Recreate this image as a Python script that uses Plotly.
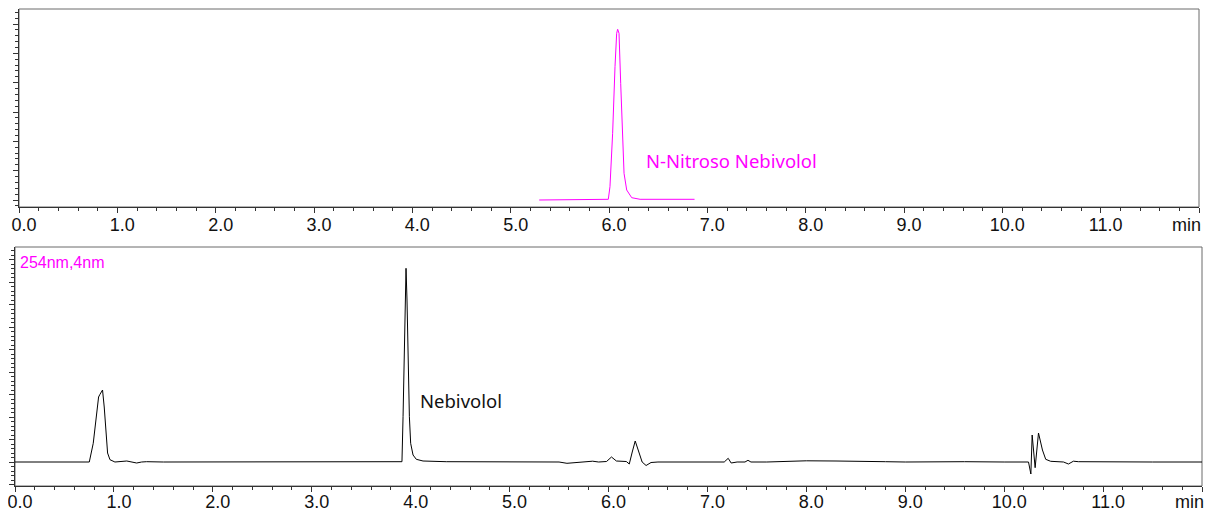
import plotly.graph_objects as go

# ---------------- data ----------------
# Top chromatogram (N-Nitroso Nebivolol standard), time in min, signal in arbitrary units
top_time = [5.29, 5.6, 5.9, 5.993, 6.010, 6.037, 6.061, 6.078, 6.088, 6.102, 6.119,
            6.136, 6.153, 6.180, 6.231, 6.316, 6.5, 6.7, 6.87]
top_signal = [0.0, 0.2, 0.3, 0.7, 13.3, 66.7, 133.3, 166.7, 170.7, 166.7, 116.7,
              60.0, 26.7, 10.0, 2.3, 0.7, 0.5, 0.5, 0.7]

# Bottom chromatogram (sample, 254nm,4nm)
bot_time = [0.0, 0.5, 0.74, 0.751, 0.791, 0.825, 0.845, 0.859, 0.875, 0.885, 0.902,
            0.919, 0.936, 0.96, 1.01, 1.13, 1.2, 1.23, 1.28, 1.33, 1.5, 2.0, 2.5,
            3.0, 3.5, 3.9, 3.912, 3.923, 3.936, 3.946, 3.953, 3.963, 3.973, 3.987,
            4.0, 4.024, 4.057, 4.125, 4.36, 4.8, 5.2, 5.5, 5.58, 5.62, 5.7, 5.84,
            5.9, 5.98, 6.03, 6.08, 6.18, 6.21, 6.24, 6.27, 6.30, 6.34, 6.38, 6.43,
            6.5, 7.0, 7.17, 7.21, 7.24, 7.3, 7.38, 7.41, 7.44, 7.6, 7.8, 8.0, 8.3,
            8.5, 8.8, 9.0, 9.3, 9.55, 9.6, 10.0, 10.246, 10.27, 10.283, 10.313,
            10.347, 10.387, 10.42, 10.47, 10.6, 10.65, 10.7, 10.75, 11.0, 11.5, 12.0]
bot_signal = [0.0, 0.0, 0.0, 0.0, 18.7, 52.0, 65.0, 67.7, 70.3, 72.0, 55.0,
              29.0, 9.0, 2.3, 0.0, 1.0, 0.0, -1.0, 0.0, 0.3, 0.0, 0.0, 0.0,
              0.3, 0.3, 0.3, 0.3, 45.3, 128.7, 178.7, 193.7, 162.0, 102.0, 45.3,
              18.7, 7.0, 2.7, 1.0, 0.3, 0.0, 0.0, 0.0, -1.3, -1.0, 0.0, 0.8,
              0.0, 0.5, 5.0, 1.0, 0.5, -2.0, 10.0, 21.0, 12.0, 0.0, -3.5, -0.5,
              0.0, 0.0, 0.0, 3.7, -1.0, 0.0, 0.0, 1.7, 0.0, 0.0, 0.8, 1.2, 1.0,
              0.5, 0.3, 0.0, 0.3, 1.0, 0.3, 0.0, 0.0, -12.0, 27.0, -5.7,
              29.0, 12.0, 2.7, 0.7, 0.0, -2.0, 0.8, 0.3, 0.0, 0.0, 0.0]

x_tickvals = [0, 1, 2, 3, 4, 5, 6, 7, 8, 9, 10, 11, 12]
x_ticktext = ["0.0", "1.0", "2.0", "3.0", "4.0", "5.0", "6.0", "7.0", "8.0",
              "9.0", "10.0", "11.0", ""]
x_unit = "min"

peak_labels = ["N-Nitroso Nebivolol", "Nebivolol"]
channel_label = "254nm,4nm"

# ---------------- figure ----------------
# The page body adds an 8 px margin at the top-left
OFF = 8
W, H = 1212 - OFF, 511 - OFF
MAGENTA = "#FF00FF"
fig = go.Figure()

fig.add_trace(go.Scatter(x=top_time, y=top_signal, mode="lines",
                         line=dict(color=MAGENTA, width=1), xaxis="x", yaxis="y",
                         showlegend=False, hoverinfo="skip"))
fig.add_trace(go.Scatter(x=bot_time, y=bot_signal, mode="lines",
                         line=dict(color="black", width=1), xaxis="x2", yaxis="y2",
                         showlegend=False, hoverinfo="skip"))

tick_font = dict(family="Liberation Sans, Arial", size=18, color="#111111")
axis_col = "#333333"

def xaxis_cfg(dom, standoff):
    return dict(domain=dom, range=[0, 12], showgrid=False, zeroline=False,
                showline=True, linecolor=axis_col, linewidth=1, automargin=False,
                ticks="outside", ticklen=5, tickcolor=axis_col, tickwidth=1,
                tickvals=x_tickvals, ticktext=x_ticktext, tickfont=tick_font,
                ticklabelshift=5, ticklabelstandoff=standoff, ticklabeloverflow="allow",
                minor=dict(dtick=0.2, tick0=0, ticks="outside", ticklen=3,
                           tickcolor=axis_col, showgrid=False),
                fixedrange=True)

def yaxis_cfg(dom, rng, dt, anchor):
    return dict(domain=dom, range=rng, showgrid=False, zeroline=False,
                showline=True, linecolor=axis_col, linewidth=1, automargin=False,
                ticks="outside", ticklen=5, tickcolor=axis_col, tickwidth=1,
                tick0=0, dtick=dt, showticklabels=False, anchor=anchor,
                minor=dict(dtick=dt / 5, tick0=0, ticks="outside", ticklen=3,
                           tickcolor=axis_col, showgrid=False),
                fixedrange=True)

def px_x(a, b):
    return [(a - OFF) / W, (b - OFF) / W]

def px_y(top, bottom):
    return [(H - (bottom - OFF)) / H, (H - (top - OFF)) / H]

top_xdom = px_x(19, 1199)
top_ydom = px_y(9, 207)
bot_xdom = px_x(15, 1202)
bot_ydom = px_y(247, 486)

fig.update_layout(
    width=W, height=H,
    margin=dict(l=0, r=0, t=0, b=0, pad=0),
    template="none",
    paper_bgcolor="white", plot_bgcolor="white",
    xaxis=dict(**xaxis_cfg(top_xdom, -4), anchor="y"),
    yaxis=yaxis_cfg(top_ydom, [-7, 191], 29.33, "x"),
    xaxis2=dict(**xaxis_cfg(bot_xdom, -6), anchor="y2"),
    yaxis2=yaxis_cfg(bot_ydom, [-24, 215], 22.5, "x2"),
)

# frames (top and right borders)
for xr, yr in (("x domain", "y domain"), ("x2 domain", "y2 domain")):
    fig.add_shape(type="rect", xref=xr, yref=yr, x0=0, x1=1, y0=0, y1=1,
                  line=dict(color="#6a6a6a", width=1), layer="below")

# unit label at the right end of each time axis
for xr, yr, ys in (("x", "y domain", -18), ("x2", "y2 domain", -16)):
    fig.add_annotation(x=12, y=0, xref=xr, yref=yr, text=x_unit, showarrow=False,
                       xanchor="right", yanchor="middle", yshift=ys, xshift=4,
                       font=tick_font)

label_font = "Noto Sans, Open Sans, sans-serif"
fig.add_annotation(x=6.36, y=40, xref="x", yref="y", text=peak_labels[0],
                   showarrow=False, xanchor="left", yanchor="middle",
                   font=dict(family=label_font, size=18.5, color=MAGENTA))
fig.add_annotation(x=4.07, y=62, xref="x2", yref="y2", text=peak_labels[1],
                   showarrow=False, xanchor="left", yanchor="middle",
                   font=dict(family=label_font, size=18.5, color="#111111"))
fig.add_annotation(x=0.03, y=199, xref="x2", yref="y2", text=channel_label,
                   showarrow=False, xanchor="left", yanchor="middle",
                   font=dict(family="Liberation Sans, Arial", size=16, color=MAGENTA))

fig.write_html("out.html")
